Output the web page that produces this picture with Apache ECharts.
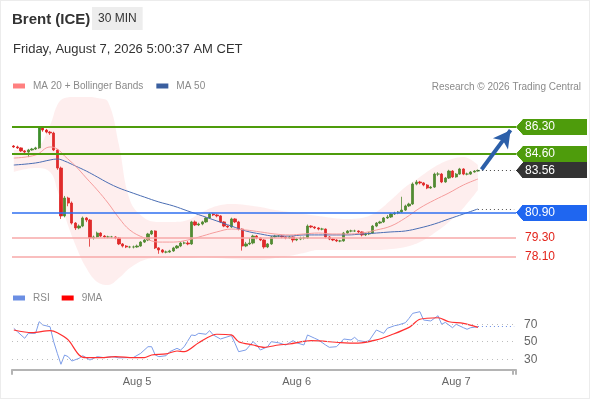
<!DOCTYPE html>
<html>
<head>
<meta charset="utf-8">
<script src="https://cdn.jsdelivr.net/npm/echarts@6.0.0/dist/echarts.min.js"></script>
<style>
  html, body { margin: 0; padding: 0; background: #fff; }
  #chart { position: absolute; left: 0; top: 0; width: 590px; height: 400px; }
  #frame { position: absolute; left: 0; top: 0; width: 590px; height: 399px; box-sizing: border-box;
           border: 1px solid #ececec; pointer-events: none; }
</style>
</head>
<body>
<div id="chart"></div>
<div id="frame"></div>
<script>
// 30分钟K线 (收盘价 / 最高 / 最低)
var firstOpen = 85.10;
var closes = [
  85.04, 84.98, 84.79, 84.72, 84.85, 84.91, 84.98, 86.24, 86.11, 85.98,
  85.92, 84.85, 83.71, 80.69, 81.82, 81.50, 80.24, 79.93, 80.05, 80.56,
  80.43, 79.30, 79.36, 79.61, 79.42, 79.36, 79.36, 79.36, 79.30, 78.92,
  78.79, 78.73, 78.73, 78.73, 78.79, 79.04, 79.17, 79.55, 79.74, 78.67,
  78.54, 78.41, 78.41, 78.48, 78.67, 78.79, 78.98, 78.98, 78.92, 80.31,
  80.12, 80.18, 80.31, 80.56, 80.81, 80.75, 80.69, 80.31, 80.05, 79.99,
  80.50, 80.31, 79.86, 78.79, 78.92, 78.98, 79.42, 79.30, 79.17, 78.73,
  78.92, 79.36, 79.42, 79.42, 79.36, 79.30, 79.36, 79.17, 79.23, 79.30,
  79.30, 80.05, 79.99, 79.93, 79.86, 79.86, 79.36, 79.23, 79.17, 79.11,
  79.11, 79.61, 79.74, 79.74, 79.74, 79.68, 79.49, 79.55, 79.61, 80.05,
  80.24, 80.31, 80.56, 80.62, 80.81, 80.87, 80.94, 81.06, 81.32, 81.44,
  82.70, 82.83, 82.77, 82.64, 82.45, 82.51, 83.33, 83.33, 82.83, 83.08,
  83.52, 83.15, 83.33, 83.65, 83.33, 83.33, 83.46, 83.52, 83.56
];
var highs = [
  85.16, 85.12, 85.02, 84.85, 84.92, 84.98, 85.05, 86.30, 86.32, 86.18,
  86.05, 86.00, 84.90, 83.80, 81.95, 81.90, 81.60, 80.30, 80.15, 80.65,
  80.62, 80.50, 79.45, 79.70, 79.66, 79.48, 79.44, 79.43, 79.41, 79.36,
  78.98, 78.85, 78.80, 78.82, 78.88, 79.10, 79.25, 79.62, 79.80, 79.78,
  78.72, 78.60, 78.50, 78.55, 78.74, 78.85, 79.05, 79.08, 79.10, 80.38,
  80.40, 80.26, 80.38, 80.62, 80.88, 80.86, 80.80, 80.74, 80.36, 80.10,
  80.58, 80.55, 80.38, 79.90, 79.05, 79.30, 79.50, 79.48, 79.35, 79.22,
  78.98, 79.42, 79.50, 79.48, 79.46, 79.40, 79.44, 79.40, 79.30, 79.38,
  79.38, 80.15, 80.10, 80.04, 79.98, 79.94, 79.90, 79.42, 79.28, 79.22,
  79.18, 79.68, 79.80, 79.82, 79.82, 79.78, 79.72, 79.62, 79.68, 80.12,
  80.30, 80.38, 80.62, 80.75, 80.88, 80.95, 81.00, 81.90, 81.40, 81.52,
  82.80, 82.95, 82.90, 82.82, 82.70, 82.58, 83.42, 83.45, 83.40, 83.15,
  83.60, 83.58, 83.40, 83.72, 83.70, 83.42, 83.52, 83.58, 83.62
];
var lows = [
  84.98, 84.92, 84.72, 84.62, 84.40, 84.80, 84.85, 84.92, 86.00, 85.90,
  85.80, 84.78, 83.60, 80.50, 80.60, 81.30, 80.15, 79.80, 79.85, 79.98,
  80.30, 78.75, 79.20, 79.30, 79.35, 79.28, 79.28, 79.29, 79.22, 78.85,
  78.70, 78.66, 78.65, 78.64, 78.68, 78.74, 78.98, 79.10, 79.48, 78.60,
  78.30, 78.34, 78.33, 78.36, 78.42, 78.60, 78.72, 78.90, 78.84, 78.86,
  80.05, 80.05, 80.10, 80.25, 80.50, 80.68, 80.60, 80.24, 79.98, 79.92,
  79.94, 80.24, 79.78, 78.50, 78.72, 78.85, 78.90, 79.22, 79.10, 78.62,
  78.66, 78.86, 79.30, 79.35, 79.28, 79.22, 79.24, 79.02, 79.10, 79.16,
  79.20, 79.24, 79.92, 79.86, 79.78, 79.78, 79.28, 79.16, 79.10, 79.04,
  79.03, 79.06, 79.55, 79.66, 79.68, 79.60, 79.40, 79.42, 79.48, 79.55,
  79.98, 80.18, 80.25, 80.50, 80.56, 80.75, 80.80, 80.88, 81.00, 81.25,
  81.38, 82.62, 82.68, 82.56, 82.38, 82.40, 82.45, 83.20, 82.76, 82.78,
  83.02, 83.08, 83.10, 83.28, 83.26, 83.25, 83.28, 83.42, 83.48
];

// 均线和布林带 (读取点的K线序号)
var bandIdx = [0, 6, 10, 12, 14, 17, 20, 23, 26, 29, 32, 36, 40, 44, 48, 52, 56, 60, 64, 68,
  72, 76, 80, 84, 88, 92, 96, 100, 104, 108, 112, 116, 120, 124, 128];
var bbUpper = [84.85, 84.98, 86.43, 87.69, 88.13, 88.19, 88.19, 88.13, 87.88, 85.16,
  81.69, 80.56, 80.31, 80.31, 80.43, 80.94, 81.32, 81.44, 81.38, 81.25,
  81.06, 80.94, 80.81, 80.69, 80.56, 80.50, 80.56, 80.94, 81.69, 82.51,
  83.15, 83.78, 84.22, 84.41, 83.90];
var bbLower = [83.46, 83.71, 83.46, 82.33, 80.75, 78.86, 77.40, 76.52, 76.33, 76.77,
  77.40, 77.91, 78.03, 78.03, 78.03, 78.10, 78.03, 77.97, 77.91, 77.91,
  78.03, 78.16, 78.35, 78.54, 78.54, 78.54, 78.54, 78.54, 78.60, 78.73,
  79.04, 79.61, 80.31, 81.19, 82.33];
var ma20 = [84.34, 84.53, 85.04, 84.91, 84.47, 83.84, 83.08, 82.33, 81.50, 80.56,
  79.80, 79.30, 79.04, 79.04, 79.17, 79.42, 79.68, 79.86, 79.80, 79.68,
  79.55, 79.49, 79.55, 79.61, 79.55, 79.55, 79.61, 79.80, 80.05, 80.56,
  81.19, 81.69, 82.14, 82.64, 83.02];
var ma50 = [83.90, 84.03, 84.22, 84.28, 84.15, 83.84, 83.52, 83.15, 82.77, 82.45,
  82.20, 81.88, 81.57, 81.32, 81.00, 80.69, 80.37, 80.05, 79.74, 79.55,
  79.42, 79.42, 79.49, 79.49, 79.49, 79.49, 79.55, 79.61, 79.68, 79.74,
  79.93, 80.18, 80.50, 80.81, 81.13];

// RSI 和 9MA
var rsiIdx = [0, 1, 3, 4, 6, 7, 8, 10, 11, 12, 13, 14, 15, 16, 18, 19, 21, 23, 25, 27,
  29, 33, 35, 37, 38, 39, 40, 42, 43, 45, 46, 47, 49, 50, 51, 53, 54, 55, 57, 60,
  61, 62, 64, 66, 67, 68, 70, 71, 73, 75, 77, 78, 80, 81, 83, 84, 86, 87, 89, 91,
  93, 94, 95, 97, 98, 100, 102, 103, 105, 106, 108, 109, 110, 112, 113, 115, 116, 117, 118, 119,
  121, 122, 124, 125, 126, 128];
var rsiVal = [65.3, 61.4, 53.9, 59.6, 59.6, 72.9, 69.1, 67.1, 50, 36.7, 24.2, 34.8, 32.9, 27.9, 31, 34, 29.1, 32.9, 31.7, 33,
  31.5, 32, 36.7, 44.3, 44.3, 34.8, 32.9, 34, 38.6, 42.4, 40.5, 44.3, 57.7, 57, 59.6, 58.5, 62.6, 57.7, 53.1, 57,
  48.2, 38.6, 40.5, 50, 46.2, 40.5, 44.3, 50, 48.8, 46.2, 51.2, 48.8, 46.2, 57.7, 53.9, 52, 46.2, 43.6, 44.3, 53.1,
  52, 55, 51.2, 50, 51.2, 63.4, 59.6, 65.3, 68.3, 69.1, 71.7, 76.7, 82.4, 84.3, 74.8, 73.7, 76.7, 79.7, 69.9, 72.1,
  66, 69.9, 66, 64.2, 66, 67.1];
var rsiMaIdx = [0, 5, 10, 12, 15, 18, 20, 24, 28, 33, 36, 38, 42, 45, 47, 51, 56, 60, 62, 66,
  69, 73, 76, 82, 90, 95, 100, 104, 109, 112, 117, 120, 124, 128];
var rsiMaVal = [63.4, 60.3, 62.6, 60.3, 52, 34.8, 31.7, 31.7, 33, 31.7, 31.7, 34.8, 36, 39.4, 38.6, 48.8, 58.5, 57.7, 50, 46.2,
  43.6, 46.2, 47.4, 51.2, 49, 48.4, 52, 57.7, 66.4, 75.6, 77.4, 72.8, 71, 66.4];

// 关键价位
var resistances = [86.30, 84.60];
var supports = [80.90, 79.30, 78.10];
var lastPrice = 83.56;
var rsiLevels = [70, 50, 30];

// 时间轴: 每天 02:00 - 23:30 (CET)
var cats = [];
function addSlots(day, from, to) {
  for (var m = from * 60; m <= to * 60; m += 30) {
    var h = Math.floor(m / 60);
    cats.push(day + " " + (h < 10 ? "0" : "") + h + ":" + (m % 60 ? "30" : "00"));
  }
}
addSlots("Aug 4", 7, 23.5);
addSlots("Aug 5", 2, 23.5);
addSlots("Aug 6", 2, 23.5);
addSlots("Aug 7", 2, 10);

var lastIdx = closes.length - 1;
var endIdx = cats.length - 1;

var ohlc = closes.map(function (c, i) {
  return [i ? closes[i - 1] : firstOpen, c, lows[i], highs[i]];
});
function pairs(idx, vals) {
  return idx.map(function (x, i) { return [x, vals[i]]; });
}
var bandWidth = bbUpper.map(function (u, i) { return +(u - bbLower[i]).toFixed(2); });

var FONT = "'Liberation Sans', Arial, sans-serif";
var GREEN = "#4e9c0c", BLUE = "#1f66f0", DARK = "#333333", RED = "#e3241b";

// 标签的箭头形背景
function tagShape(color) {
  var c = document.createElement("canvas");
  c.width = 284;
  c.height = 64;
  var ctx = c.getContext("2d");
  ctx.fillStyle = color;
  ctx.beginPath();
  ctx.moveTo(0, 32);
  ctx.lineTo(28, 0);
  ctx.lineTo(284, 0);
  ctx.lineTo(284, 64);
  ctx.lineTo(28, 64);
  ctx.closePath();
  ctx.fill();
  return c;
}
function tagLabel(color) {
  return {
    show: true, position: "end", distance: 0, formatter: "{b}",
    color: "#fff", fontSize: 12, lineHeight: 14, width: 57, align: "left",
    padding: [1, 5, 1, 9], backgroundColor: { image: tagShape(color) }
  };
}
var redLabel = {
  show: true, position: "end", distance: 0, formatter: "{b}",
  color: RED, fontSize: 12, padding: [1, 5, 1, 9]
};
function seg(x0, y0, x1, y1, lineStyle, endSymbol, endSize) {
  var common = { lineStyle: lineStyle, label: { show: false } };
  return [
    Object.assign({ coord: [x0, y0], symbol: "none" }, common),
    Object.assign({ coord: [x1, y1], symbol: endSymbol || "none", symbolSize: endSize || 0 }, common)
  ];
}

var levelLines = [];
resistances.forEach(function (v) {
  levelLines.push({ name: v.toFixed(2), yAxis: v, lineStyle: { color: GREEN, width: 2, type: "solid" }, label: tagLabel(GREEN) });
});
levelLines.push({ name: lastPrice.toFixed(2), yAxis: lastPrice,
  lineStyle: { color: "rgba(0,0,0,0)", width: 0, type: "solid" }, label: tagLabel(DARK) });
levelLines.push(seg(lastIdx, lastPrice, endIdx, lastPrice, { color: "#444", width: 1, type: [1, 3] }));
levelLines.push({ name: supports[0].toFixed(2), yAxis: supports[0], lineStyle: { color: "#2f6ff0", width: 1.5, type: "solid" }, label: tagLabel(BLUE) });
levelLines.push(seg(lastIdx, ma50[ma50.length - 1], endIdx, ma50[ma50.length - 1], { color: "#555", width: 1, type: [1, 3] }));
supports.slice(1).forEach(function (v) {
  levelLines.push({ name: v.toFixed(2), yAxis: v, lineStyle: { color: "#f7a8a8", width: 1.5, type: "solid" }, label: redLabel });
});
// 目标箭头
levelLines.push(seg(lastIdx + 1, 83.62, endIdx - 1, 86.1, { color: "#2c5fa9", width: 4, type: "solid" }, "arrow", [14, 17]));

var chart = echarts.init(document.getElementById("chart"), null, { renderer: "canvas" });

var option = {
  animation: false,
  textStyle: { fontFamily: FONT },
  title: [
    { text: "Brent (ICE)", left: 12, top: 11, padding: 0,
      textStyle: { fontSize: 15, fontWeight: "bold", color: "#333", fontFamily: FONT, lineHeight: 17 } },
    { text: "30 MIN", left: 92, top: 7, padding: [6, 6, 5, 6], backgroundColor: "#ededed",
      textStyle: { fontSize: 12, fontWeight: "normal", color: "#333", fontFamily: FONT, lineHeight: 12 } },
    { text: "Friday, August 7, 2026 5:00:37 AM CET", left: 13, top: 42, padding: 0,
      textStyle: { fontSize: 13, fontWeight: "normal", color: "#333", fontFamily: FONT, lineHeight: 15 } },
    { text: "Research \u00a9 2026 Trading Central", right: 9, top: 81, padding: 0,
      textStyle: { fontSize: 10, fontWeight: "normal", color: "#8a8a8a", fontFamily: FONT, lineHeight: 12 } }
  ],
  legend: [
    { data: ["MA 20 + Bollinger Bands", "MA 50"], left: 13, top: 81, padding: 0, icon: "rect",
      itemWidth: 12, itemHeight: 5, itemGap: 13, selectedMode: false,
      textStyle: { fontSize: 10, color: "#8a8a8a", fontFamily: FONT, padding: [0, 0, 0, 3] } },
    { data: ["RSI", "9MA"], left: 13, top: 293, padding: 0, icon: "rect",
      itemWidth: 12, itemHeight: 5, itemGap: 12, selectedMode: false,
      textStyle: { fontSize: 10, color: "#8a8a8a", fontFamily: FONT, padding: [0, 0, 0, 3] } }
  ],
  grid: [
    { left: 12, right: 74, top: 84.2, height: 221.9, outerBoundsMode: "none" },
    { left: 12, right: 74, top: 308.45, height: 61.25, outerBoundsMode: "none" }
  ],
  xAxis: [
    { type: "category", gridIndex: 0, data: cats, show: false },
    { type: "category", gridIndex: 1, data: cats,
      axisLine: { show: true, lineStyle: { color: "#b4b4b4", width: 2 } },
      axisTick: { show: true, length: 5, lineStyle: { color: "#b4b4b4", width: 2 },
        interval: function (i) { return i === 0 || i === endIdx; } },
      axisLabel: {
        color: "#666", fontSize: 11, margin: 7, fontFamily: FONT,
        interval: function (i, v) { return / 02:00$/.test(v); },
        formatter: function (v) { return v.slice(0, 5); }
      },
      splitLine: { show: false } }
  ],
  yAxis: [
    { type: "value", gridIndex: 0, min: 75, max: 89, show: false },
    { type: "value", gridIndex: 1, min: 18, max: 88, show: false }
  ],
  series: [
    { name: "bbLow", type: "line", stack: "bb", data: pairs(bandIdx, bbLower), smooth: 0.4,
      showSymbol: false, lineStyle: { opacity: 0 }, silent: true },
    { name: "bbBand", type: "line", stack: "bb", data: pairs(bandIdx, bandWidth), smooth: 0.4,
      showSymbol: false, lineStyle: { opacity: 0 }, silent: true,
      areaStyle: { color: "rgba(245, 110, 110, 0.17)" } },
    { name: "MA 50", type: "line", data: pairs(bandIdx, ma50), smooth: 0.4, showSymbol: false,
      lineStyle: { color: "#4a6db3", width: 1 }, itemStyle: { color: "#3a5f9f" } },
    { name: "MA 20 + Bollinger Bands", type: "line", data: pairs(bandIdx, ma20), smooth: 0.4, showSymbol: false,
      lineStyle: { color: "#f59c9c", width: 1 }, itemStyle: { color: "#ff8080" } },
    { name: "Brent", type: "candlestick", data: ohlc, barWidth: 2.8,
      itemStyle: { color: "#3d8f2c", color0: "#dd2222", borderColor: "#3d8f2c", borderColor0: "#dd2222", borderWidth: 0.8 },
      markLine: { silent: true, symbol: ["none", "none"], animation: false, data: levelLines } },
    { name: "RSI", type: "line", xAxisIndex: 1, yAxisIndex: 1, data: pairs(rsiIdx, rsiVal),
      showSymbol: false, lineStyle: { color: "#7d9de8", width: 1 }, itemStyle: { color: "#6b8ee3" },
      markLine: {
        silent: true, symbol: ["none", "none"], animation: false,
        data: rsiLevels.map(function (v) {
          return { yAxis: v, lineStyle: { color: "#bdbdbd", width: 1, type: [1, 4] },
            label: { show: true, position: "end", distance: 8, formatter: "{c}", color: "#666", fontSize: 12 } };
        }).concat([seg(lastIdx, rsiVal[rsiVal.length - 1], endIdx, rsiVal[rsiVal.length - 1],
          { color: "#6b8ee3", width: 1, type: [1, 3] })])
      } },
    { name: "9MA", type: "line", xAxisIndex: 1, yAxisIndex: 1, data: pairs(rsiMaIdx, rsiMaVal), smooth: 0.3,
      showSymbol: false, lineStyle: { color: "#ff3030", width: 1.2 }, itemStyle: { color: "#ff0000" } }
  ]
};

chart.setOption(option);
window.onresize = function () {
  chart.resize();
};
</script>
</body>
</html>
